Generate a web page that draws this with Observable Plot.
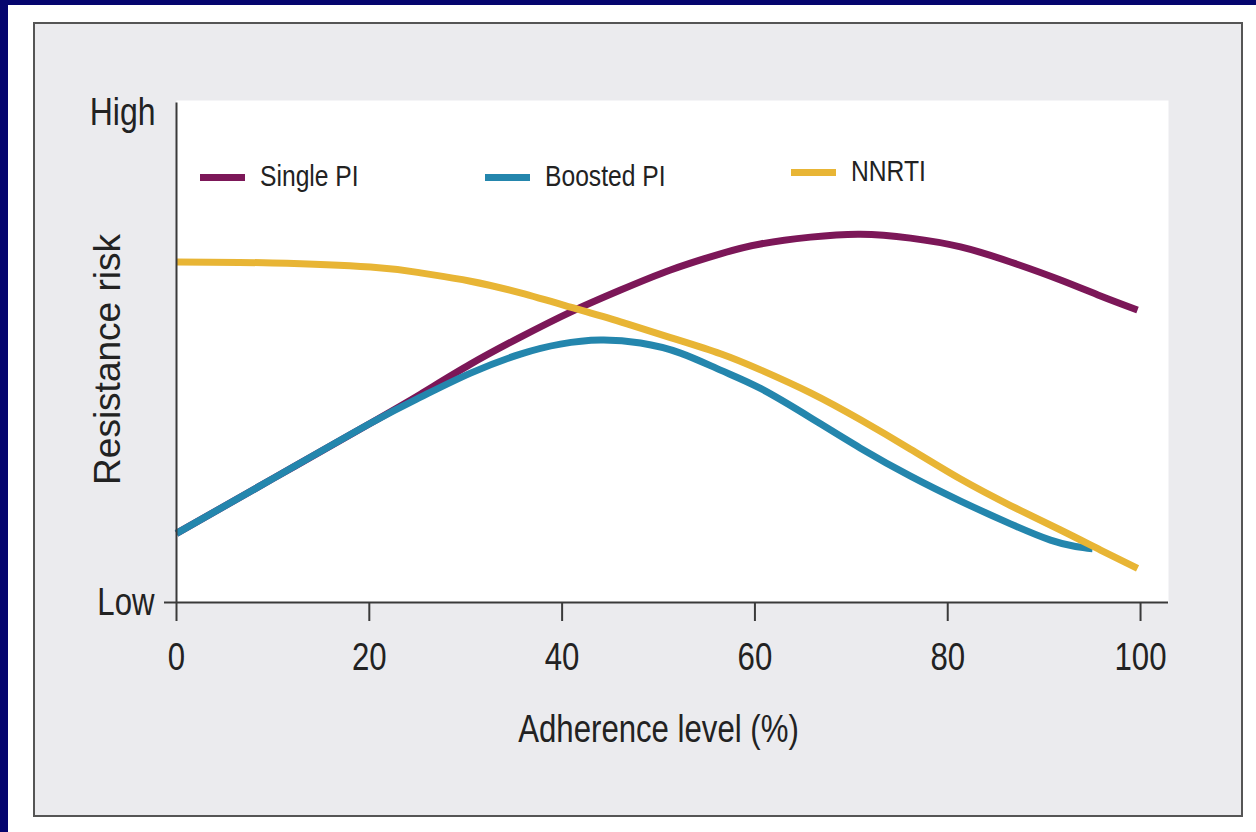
<!DOCTYPE html>
<html>
<head>
<meta charset="utf-8">
<script src="https://cdn.jsdelivr.net/npm/d3@7"></script>
<script src="https://cdn.jsdelivr.net/npm/@observablehq/plot@0.6"></script>
<style>
  html, body { margin: 0; padding: 0; background: #ffffff; width: 1256px; height: 832px; overflow: hidden; position: relative; }
  #navyTop { position: absolute; left: 0; top: 0; width: 1256px; height: 5px; background: #05056e; }
  #navyLeft { position: absolute; left: 0; top: 0; width: 8px; height: 832px; background: #05056e; }
  #panel { position: absolute; left: 33px; top: 22px; width: 1206px; height: 791px; background: #ebebee; border: 2px solid #555; }
  #chart { position: absolute; left: 33px; top: 22px; }
  #legend { position: absolute; left: 200px; top: 160px; display: flex; align-items: center; gap: 126px; }
  .item { display: flex; align-items: center; }
  .sw { width: 45px; height: 7px; margin-right: 15px; margin-top: 3px; }
  .lab { display: inline-block; font-family: "Liberation Sans", Arial, sans-serif; font-size: 29px; color: #222; line-height: 32px; transform: scaleX(0.85); transform-origin: 0 50%; }
</style>
</head>
<body>
<div id="navyTop"></div>
<div id="navyLeft"></div>
<div id="panel"></div>
<div id="chart"></div>
<div id="legend"></div>
<script>
// ---- data ----
const seriesNames = ["Single PI", "Boosted PI", "NNRTI"];
const seriesColors = ["#7c1758", "#2486ad", "#e8b535"];

const singlePIx = [0, 10.06, 20.12, 25.31, 30.5, 35.68, 40.87, 46.06, 51.24, 56.43, 60.58, 65.77, 70.95, 76.14, 81.33, 86.51, 91.7, 95.85, 99.69];
const singlePIy = [14.11, 25.36, 36.61, 42.54, 48.67, 54.19, 59.3, 63.8, 67.9, 71.2, 73.2, 74.6, 75.2, 74.4, 72.6, 69.53, 65.85, 62.58, 59.71];

const boostedPIx = [0, 10.06, 20.12, 25.31, 30.5, 35.68, 39.83, 43.98, 48.13, 52.28, 56.43, 60.58, 65.77, 70.95, 76.14, 81.33, 86.51, 90.66, 93.26, 95.02];
const boostedPIy = [14.11, 25.36, 36.61, 41.92, 46.83, 50.72, 52.76, 53.58, 52.97, 50.92, 47.44, 43.7, 37.73, 31.51, 25.8, 20.71, 16.05, 12.73, 11.43, 10.99];

const nnrtiX = [0, 9.96, 20.12, 25.31, 30.5, 35.68, 40.87, 46.06, 51.24, 56.43, 60.58, 65.77, 70.95, 76.14, 81.33, 86.51, 91.7, 95.85, 99.69];
const nnrtiY = [69.53, 69.33, 68.5, 67.3, 65.6, 63.2, 60.3, 57.3, 54.1, 50.8, 47.5, 42.8, 37.3, 31.3, 25.2, 19.8, 14.8, 10.7, 6.95];

const xTicks = [0, 20, 40, 60, 80, 100];
const yTicks = [0, 100];
const yTickLabels = ["Low", "High"];
const xLabel = "Adherence level (%)";
const yLabel = "Resistance risk";

// ---- build table ----
const seriesX = [singlePIx, boostedPIx, nnrtiX];
const seriesY = [singlePIy, boostedPIy, nnrtiY];
const rows = [];
seriesNames.forEach((name, i) => {
  seriesX[i].forEach((x, j) => rows.push({series: name, x, y: seriesY[i][j]}));
});

const sans = '"Liberation Sans", Arial, sans-serif';

const chart = Plot.plot({
  width: 1210,
  height: 795,
  marginLeft: 143,
  marginRight: 75,
  marginTop: 78,
  marginBottom: 215,
  style: {background: "transparent", overflow: "visible", color: "#222"},
  x: {domain: [0, 102.9]},
  y: {domain: [0, 102.5]},
  color: {domain: seriesNames, range: seriesColors},
  marks: [
    Plot.frame({fill: "white", stroke: "none"}),
    Plot.line(rows, {x: "x", y: "y", z: "series", stroke: "series", strokeWidth: 7, curve: "natural", strokeLinecap: "butt"}),
    Plot.ruleY([0], {stroke: "#3a3a3a", strokeWidth: 2}),
    Plot.ruleX([0], {y1: 0, y2: 102, stroke: "#3a3a3a", strokeWidth: 2}),
    Plot.axisX({ticks: xTicks, tickSize: 19, tickPadding: 22, tickFormat: d => String(d), fontSize: 38, fontFamily: sans, stroke: "#3a3a3a", strokeWidth: 2, label: null}),
    Plot.axisY({ticks: [yTicks[0]], tickSize: 12, tickPadding: 10, tickFormat: () => yTickLabels[0], fontSize: 38, fontFamily: sans, stroke: "#3a3a3a", strokeWidth: 2, label: null}),
    Plot.axisY({ticks: [yTicks[1]], tickSize: 0, tickPadding: 21, tickFormat: () => yTickLabels[1], fontSize: 39, fontFamily: sans, label: null}),
    Plot.text([xLabel], {x: 50, frameAnchor: "bottom", lineAnchor: "top", dy: 113, fontSize: 38, fontFamily: sans, fill: "#222"}),
    Plot.text([yLabel], {frameAnchor: "left", textAnchor: "middle", rotate: -90, dx: -68, dy: 8, fontSize: 37, fontFamily: sans, fill: "#222"})
  ]
});
document.getElementById("chart").appendChild(chart);

// narrow the horizontal texts (reference uses a condensed face)
chart.querySelectorAll("text").forEach(t => {
  if (t.textContent === yLabel) return;
  const w = t.getComputedTextLength();
  if (w > 0) {
    t.setAttribute("textLength", (w * 0.82).toFixed(1));
    t.setAttribute("lengthAdjust", "spacingAndGlyphs");
  }
});

// ---- legend ----
const legend = document.getElementById("legend");
seriesNames.forEach((name, i) => {
  const item = document.createElement("div");
  item.className = "item";
  if (i === 2) item.style.marginTop = "-10px";
  const sw = document.createElement("div");
  sw.className = "sw";
  sw.style.background = seriesColors[i];
  const lab = document.createElement("span");
  lab.className = "lab";
  lab.textContent = name;
  item.appendChild(sw);
  item.appendChild(lab);
  legend.appendChild(item);
  lab.style.marginRight = (-0.15 * lab.offsetWidth).toFixed(1) + "px";
});
</script>
</body>
</html>
